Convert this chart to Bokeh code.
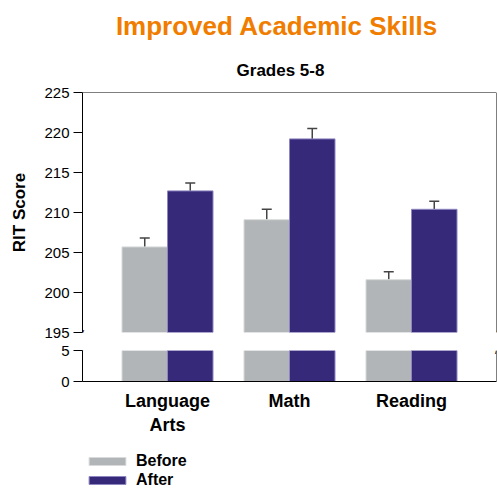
from bokeh.plotting import figure
from bokeh.models import (ColumnDataSource, Whisker, TeeHead, FixedTicker,
                          Legend, LegendItem, Span, Label, Range1d)
from bokeh.core.properties import value
from bokeh.layouts import column
from bokeh.transform import dodge
from bokeh.embed import file_html
from bokeh.resources import INLINE

# ---- data ----
title_text = "Improved Academic Skills"
subtitle_text = "Grades 5-8"
y_label = "RIT Score"
categories = ["Language\nArts", "Math", "Reading"]
series = ["Before", "After"]
before = [205.7, 209.1, 201.6]
after = [212.7, 219.2, 210.4]
before_err = [1.1, 1.3, 1.0]
after_err = [1.0, 1.3, 1.0]
upper_ticks = [195, 200, 205, 210, 215, 220, 225]
lower_ticks = [0, 5]

x_pos = list(range(1, len(categories) + 1))
src = ColumnDataSource(dict(
    x=x_pos, before=before, after=after,
    before_hi=[b + e for b, e in zip(before, before_err)],
    after_hi=[a + e for a, e in zip(after, after_err)],
))

BEFORE_C = "#B2B5B7"
AFTER_C = "#36297A"
FONT = "Liberation Sans"
BW = 0.373
X0 = 0.3033
X1 = 3.6967
W = 497
LEFT = 82

def style_common(p):
    p.background_fill_color = "white"
    p.border_fill_color = "white"
    p.outline_line_color = None
    p.grid.visible = False

def add_bars(p, source):
    r1 = p.vbar(x=dodge("x", -BW / 2), top="before", bottom=0, width=BW, source=source,
                fill_color=BEFORE_C, line_color="#D8DADB", line_width=1)
    r2 = p.vbar(x=dodge("x", BW / 2), top="after", bottom=0, width=BW, source=source,
                fill_color=AFTER_C, line_color="#8D86C0", line_width=1)
    return r1, r2

def style_yaxis(ax, ticks):
    ax.ticker = FixedTicker(ticks=ticks)
    ax.minor_tick_line_color = None
    ax.major_tick_in = 0
    ax.major_tick_out = 9
    ax.major_tick_line_color = "black"
    ax.axis_line_color = "black"
    ax.major_label_standoff = 4
    ax.major_label_text_font = FONT
    ax.major_label_text_font_size = "15px"
    ax.major_label_text_color = "black"

def break_marks(p, yv, yoff):
    for xx in (X0, X1):
        p.add_layout(Label(x=xx, y=yv, text="/", text_align="center",
                           text_baseline="middle", text_font=FONT, text_font_size="11px",
                           text_color="black", y_offset=yoff))

# ---- title strip (page-pixel coordinates; frame aligned with the charts) ----
ttl = figure(width=W, height=83, output_backend="svg", toolbar_location=None,
             title_location=None,
             x_range=Range1d(LEFT, W - 1), y_range=Range1d(83, 0),
             x_axis_location=None, y_axis_location=None,
             min_border_left=LEFT, min_border_right=1, min_border_top=0, min_border_bottom=0)
style_common(ttl)
ttl.text(x=[276.5], y=[25], text=[title_text], text_align="center",
         text_baseline="alphabetic", text_font=value(FONT), text_font_size="26px",
         text_font_style="bold", text_color="#F07D00")
ttl.text(x=[280], y=[70], text=[subtitle_text], text_align="center",
         text_baseline="alphabetic", text_font=value(FONT), text_font_size="17px",
         text_font_style="bold", text_color="black")

# ---- upper panel ----
top = figure(width=W, height=258, output_backend="svg", toolbar_location=None,
             title_location=None,
             x_range=Range1d(X0, X1), y_range=Range1d(upper_ticks[0], upper_ticks[-1]),
             x_axis_location=None, min_border_left=LEFT, min_border_right=1,
             min_border_top=9, min_border_bottom=9)
style_common(top)
add_bars(top, src)
style_yaxis(top.yaxis[0], upper_ticks)
top.yaxis.axis_label = y_label
top.yaxis.axis_label_text_font = FONT
top.yaxis.axis_label_text_font_style = "bold"
top.yaxis.axis_label_text_font_size = "17px"
top.yaxis.axis_label_text_color = "black"
top.yaxis.axis_label_standoff = 12

for col_lo, col_hi, off in (("before", "before_hi", -BW / 2), ("after", "after_hi", BW / 2)):
    w = Whisker(source=src, base=dodge("x", off), lower=col_lo, upper=col_hi,
                line_color="#444444", line_width=1.5, lower_head=None,
                upper_head=TeeHead(size=10, line_color="#444444", line_width=1.5))
    top.add_layout(w)

top.add_layout(Span(location=upper_ticks[-1], dimension="width", line_color="black", line_width=1))
top.add_layout(Span(location=X1, dimension="height", line_color="black", line_width=1))
break_marks(top, upper_ticks[0], -1)

# ---- lower panel ----
bot = figure(width=W, height=111, output_backend="svg", toolbar_location=None,
             title_location=None,
             x_range=top.x_range, y_range=Range1d(lower_ticks[0], lower_ticks[-1]),
             min_border_left=LEFT, min_border_right=1, min_border_top=9, min_border_bottom=71)
style_common(bot)
add_bars(bot, src)
style_yaxis(bot.yaxis[0], lower_ticks)
xa = bot.xaxis[0]
xa.ticker = FixedTicker(ticks=x_pos)
xa.major_label_overrides = {x: c for x, c in zip(x_pos, categories)}
xa.major_tick_line_color = None
xa.minor_tick_line_color = None
xa.axis_line_color = "black"
xa.major_label_standoff = 3
xa.major_label_text_font = FONT
xa.major_label_text_font_style = "bold"
xa.major_label_text_font_size = "18px"
xa.major_label_text_color = "black"

bot.add_layout(Span(location=X1, dimension="height", line_color="black", line_width=1))
break_marks(bot, lower_ticks[-1], 1)

# ---- legend strip ----
leg = figure(width=W, height=37, output_backend="svg", toolbar_location=None,
             title_location=None,
             x_range=Range1d(0, 1), y_range=Range1d(0, 1),
             x_axis_location=None, y_axis_location=None,
             min_border_left=LEFT, min_border_right=1, min_border_top=0, min_border_bottom=0)
style_common(leg)
lb, la = add_bars(leg, src)
lb.visible = False
la.visible = False
legend = Legend(items=[LegendItem(label=series[0], renderers=[lb]),
                       LegendItem(label=series[1], renderers=[la])],
                location=(2, 0), orientation="vertical",
                border_line_color=None, background_fill_alpha=0,
                inactive_fill_alpha=0,
                label_text_font=FONT, label_text_font_style="bold",
                label_text_font_size="16px", label_text_color="black",
                glyph_width=46, glyph_height=10, label_standoff=6,
                spacing=1, padding=0, margin=0)
leg.add_layout(legend, "center")

layout = column(ttl, top, bot, leg, spacing=0)
open("out.html", "w").write(file_html(layout, INLINE))
